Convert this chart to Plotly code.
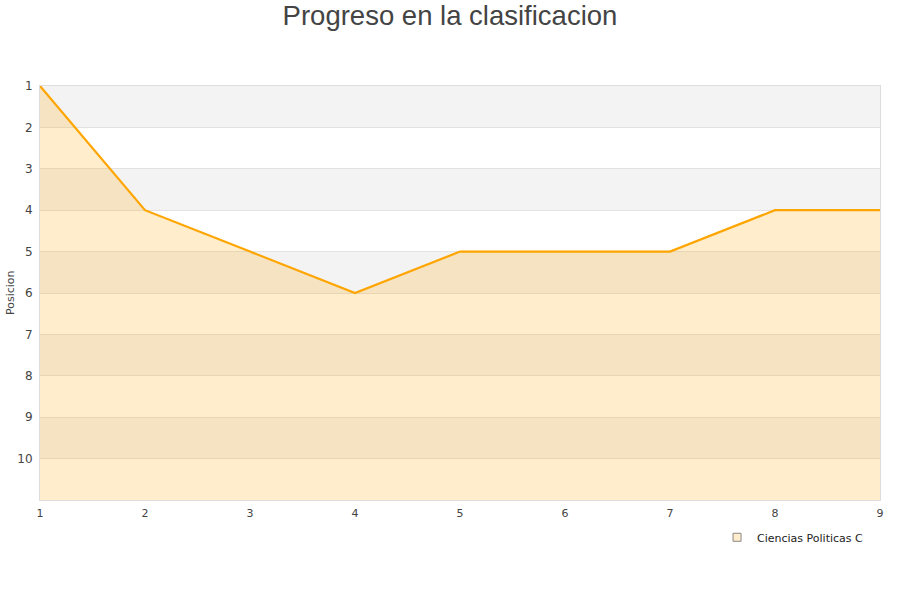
import plotly.graph_objects as go

jornadas = [1, 2, 3, 4, 5, 6, 7, 8, 9]
posicion = [1, 4, 5, 6, 5, 5, 5, 4, 4]
y_ticks = [1, 2, 3, 4, 5, 6, 7, 8, 9, 10]
serie = "Ciencias Politicas C"

fig = go.Figure()
# baseline for area fill
fig.add_trace(go.Scatter(x=jornadas, y=[11] * len(jornadas), mode="lines",
                         line=dict(width=0), showlegend=False, hoverinfo="skip"))
fig.add_trace(go.Scatter(x=jornadas, y=posicion, mode="lines", fill="tonexty",
                         fillcolor="rgba(255,165,0,0.2)",
                         line=dict(color="#FFA500", width=2.2),
                         showlegend=False, name=serie))
fig.add_trace(go.Scatter(x=[None], y=[None], mode="markers", name=serie,
                         marker=dict(symbol="square", size=8, color="#FFEDCC",
                                     line=dict(color="#888", width=1))))

shapes = []
for k in range(1, 11, 2):
    shapes.append(dict(type="rect", xref="paper", x0=0, x1=1, yref="y",
                       y0=k, y1=k + 1, fillcolor="#f3f3f3", line=dict(width=0),
                       layer="below"))

fig.update_layout(
    width=900, height=600,
    paper_bgcolor="white", plot_bgcolor="white",
    margin=dict(l=40, r=20, t=86, b=100, autoexpand=False),
    title=dict(text="Progreso en la clasificacion", x=0.5, xanchor="center",
               y=1 - 15 / 600, yanchor="middle",
               font=dict(family="Liberation Sans, Arial, sans-serif", size=27.5, color="#444")),
    font=dict(family="DejaVu Sans, sans-serif", size=11, color="#444"),
    shapes=shapes,
    showlegend=True,
    legend=dict(x=0.806, xanchor="left", y=-0.055, yanchor="top",
                font=dict(size=11, color="#222"), bgcolor="rgba(0,0,0,0)",
                itemwidth=30),
    annotations=[dict(text="Posicion", xref="paper", yref="paper",
                      x=-30 / 840, y=0.5, xanchor="center", yanchor="middle",
                      textangle=-90, showarrow=False,
                      font=dict(size=11, color="#444"))],
    xaxis=dict(range=[1, 9], tickvals=jornadas, showgrid=False, zeroline=False,
               showline=True, linecolor="#ddd", linewidth=1, mirror=True,
               automargin=False, ticklabelstandoff=3,
               ticks="", tickfont=dict(size=11, color="#444")),
    yaxis=dict(range=[11, 1], tickvals=y_ticks, showgrid=True, gridcolor="#e2e2e2",
               zeroline=False, showline=True, linecolor="#ddd", linewidth=1,
               mirror=True, ticks="", tickfont=dict(size=12, color="#444"),
               automargin=False, ticklabelstandoff=4),
)

fig.write_html("out.html", config={"displayModeBar": False},
               post_script="document.body.style.margin='0';")
